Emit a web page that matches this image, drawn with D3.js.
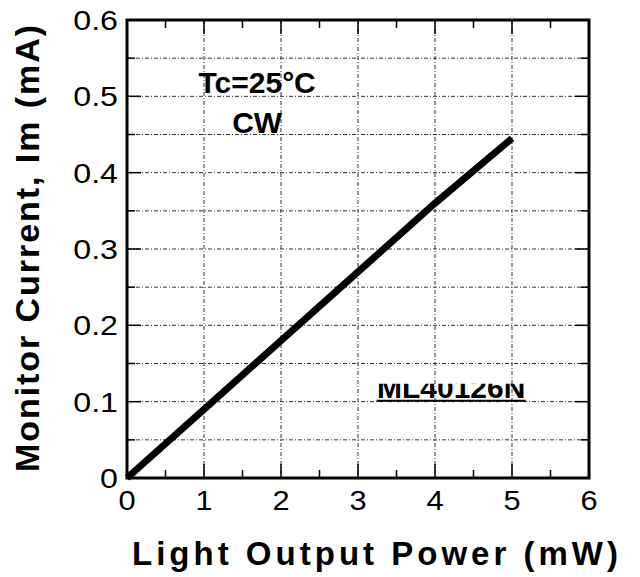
<!DOCTYPE html>
<html>
<head>
<meta charset="utf-8">
<script src="https://cdn.jsdelivr.net/npm/d3@7"></script>
<style>
  body { margin: 0; background: #fff; }
  text { font-family: "Liberation Sans", Arial, sans-serif; fill: #000; }
</style>
</head>
<body>
<div id="chart"></div>
<script>
// data
const powerMW = [0, 1, 2, 3, 4, 5]
const monitorMA = [0, 0.09, 0.18, 0.27, 0.36, 0.445]
const xTicks = [0, 1, 2, 3, 4, 5, 6]
const yTicks = [0, 0.1, 0.2, 0.3, 0.4, 0.5, 0.6]
const yTickLabels = ['0', '0.1', '0.2', '0.3', '0.4', '0.5', '0.6']
const notes = ['Tc=25°C', 'CW']
const partName = 'ML40126N'

const width = 640, height = 577
const margin = { top: 20, right: 51, bottom: 99, left: 127 }
const w = width - margin.left - margin.right
const h = height - margin.top - margin.bottom

const svg = d3.select('#chart').append('svg')
  .attr('width', width)
  .attr('height', height)
const g = svg.append('g')
  .attr('transform', `translate(${margin.left},${margin.top})`)

const x = d3.scaleLinear().domain([0, 6]).range([0, w])
const y = d3.scaleLinear().domain([0, 0.6]).range([h, 0])

// grid: dash-dot lines, vertical on integers, horizontal every 0.05
const gridStyle = sel => sel.attr('stroke', '#333').attr('stroke-width', 1)
  .attr('stroke-dasharray', '4,2,1,2').attr('fill', 'none')
const vGrid = d3.range(1, 6)
const hGrid = d3.range(1, 12).map(i => i * 0.05)
g.selectAll('.vgrid').data(vGrid).join('line')
  .attr('x1', d => x(d)).attr('x2', d => x(d))
  .attr('y1', 0).attr('y2', h)
  .call(gridStyle)
g.selectAll('.hgrid').data(hGrid).join('line')
  .attr('x1', 0).attr('x2', w)
  .attr('y1', d => y(d)).attr('y2', d => y(d))
  .call(gridStyle)

// inward ticks on all four sides
const xMinor = d3.range(1, 12).map(i => i * 0.5)
const tickLen = d => Math.abs(d - Math.round(d)) < 1e-6 ? 14 : 8
const ticks = g.append('g').attr('stroke', '#000').attr('stroke-width', 1.5)
ticks.selectAll('.tb').data(xMinor).join('line')
  .attr('x1', d => x(d)).attr('x2', d => x(d))
  .attr('y1', h).attr('y2', d => h - tickLen(d))
ticks.selectAll('.tt').data(xMinor).join('line')
  .attr('x1', d => x(d)).attr('x2', d => x(d))
  .attr('y1', 0).attr('y2', d => tickLen(d))
const yTickLen = d => Math.abs(d * 10 - Math.round(d * 10)) < 1e-6 ? 14 : 8
ticks.selectAll('.tl').data(hGrid).join('line')
  .attr('x1', 0).attr('x2', d => yTickLen(d))
  .attr('y1', d => y(d)).attr('y2', d => y(d))
ticks.selectAll('.tr').data(hGrid).join('line')
  .attr('x1', w).attr('x2', d => w - yTickLen(d))
  .attr('y1', d => y(d)).attr('y2', d => y(d))

// frame
g.append('rect')
  .attr('width', w).attr('height', h)
  .attr('fill', 'none').attr('stroke', '#000').attr('stroke-width', 3)

// tick labels, a little wider than the plain font like in the scan
g.selectAll('.xl').data(xTicks).join('text')
  .attr('transform', d => `translate(${x(d)},${h + 32}) scale(1.1,1)`)
  .attr('text-anchor', 'middle')
  .attr('font-size', 28)
  .text(d => d)
g.selectAll('.yl').data(yTicks).join('text')
  .attr('transform', d => `translate(-9,${y(d) + 10}) scale(1.15,1)`)
  .attr('text-anchor', 'end')
  .attr('font-size', 28)
  .text((d, i) => yTickLabels[i])

// the curve
const pts = powerMW.map((p, i) => [p, monitorMA[i]])
g.append('path')
  .datum(pts)
  .attr('fill', 'none')
  .attr('stroke', '#000')
  .attr('stroke-width', 7)
  .attr('d', d3.line().x(d => x(d[0])).y(d => y(d[1])))

// notes
g.selectAll('.note').data(notes).join('text')
  .attr('x', x(1.69))
  .attr('y', (d, i) => y(0.505) + i * 40)
  .attr('text-anchor', 'middle')
  .attr('font-size', 30)
  .attr('font-weight', 'bold')
  .text(d => d)

// part name, top half cut off like in the scan
const px = x(4.21), py = y(0.105)
svg.append('clipPath').attr('id', 'cut')
  .append('rect')
  .attr('x', 0).attr('y', py - 14).attr('width', w).attr('height', 30)
g.append('text')
  .attr('clip-path', 'url(#cut)')
  .attr('x', px).attr('y', py)
  .attr('text-anchor', 'middle')
  .attr('font-size', 30)
  .attr('font-weight', 'bold')
  .text(partName)
g.append('line')
  .attr('x1', px - 74.5).attr('x2', px + 74.5)
  .attr('y1', py + 3).attr('y2', py + 3)
  .attr('stroke', '#000').attr('stroke-width', 2)

// axis titles
svg.append('text')
  .attr('x', 132).attr('y', 565)
  .attr('font-size', 33)
  .attr('font-weight', 'bold')
  .attr('textLength', 486)
  .attr('lengthAdjust', 'spacing')
  .text('Light Output Power (mW)')
svg.append('text')
  .attr('transform', 'translate(39,472) rotate(-90)')
  .attr('font-size', 34)
  .attr('font-weight', 'bold')
  .attr('textLength', 447)
  .attr('lengthAdjust', 'spacing')
  .text('Monitor Current, Im (mA)')
</script>
</body>
</html>
